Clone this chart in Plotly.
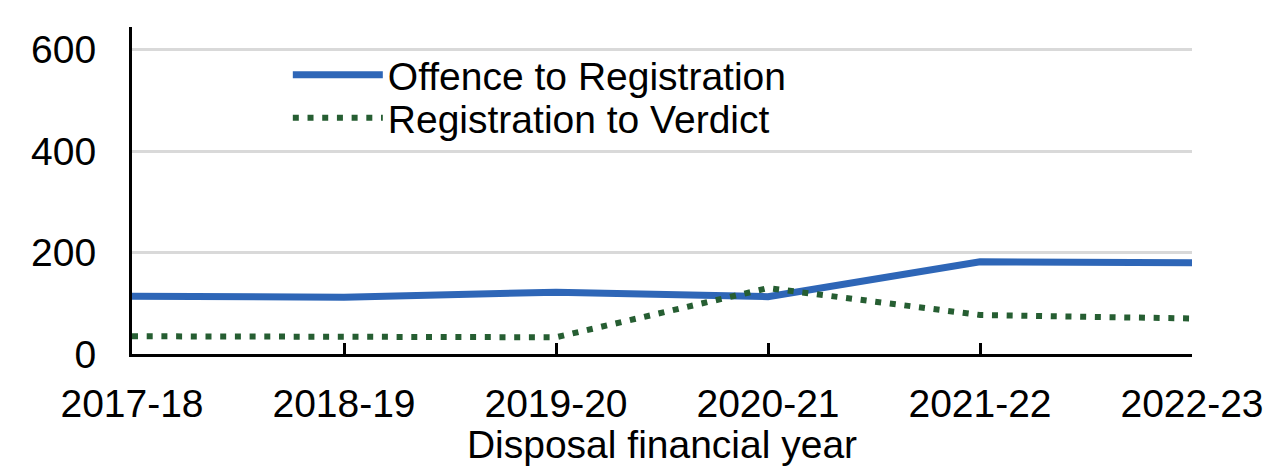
import plotly.graph_objects as go

years = ["2017-18", "2018-19", "2019-20", "2020-21", "2021-22", "2022-23"]
offence_to_registration = [114, 112, 122, 113, 182, 180]
registration_to_verdict = [35, 35, 33, 130, 77, 70]
y_ticks = [0, 200, 400, 600]

FONT = "Liberation Sans, Arial, sans-serif"
FS = 39

# page body has an 8px margin; compensate so plot lands where the reference's does
OFF = 8
W, H = 1274 - OFF, 466 - OFF
L, T, PW, PH = 132 - OFF, 27 - OFF, 1060, 327

fig = go.Figure()
fig.add_trace(go.Scatter(
    x=years, y=offence_to_registration, mode="lines",
    name="Offence to Registration", legend="legend",
    line=dict(color="#2E66B7", width=7),
))
fig.add_trace(go.Scatter(
    x=years, y=registration_to_verdict, mode="lines",
    name="Registration to Verdict", legend="legend2",
    line=dict(color="#265E32", width=6, dash="6px,8.7px"),
))

leg = dict(xanchor="left", yanchor="middle", bgcolor="rgba(0,0,0,0)",
           font=dict(size=FS), itemwidth=90, borderwidth=0)

fig.update_layout(
    width=W, height=H,
    margin=dict(l=L, r=W - L - PW, t=T, b=H - T - PH, autoexpand=False),
    paper_bgcolor="white", plot_bgcolor="white",
    font=dict(family=FONT, size=FS, color="black"),
    showlegend=True,
    legend=dict(x=0.147, y=(354 - 75) / 327, **leg),
    legend2=dict(x=0.147, y=(354 - 118) / 327, **leg),
    xaxis=dict(
        type="category", range=[0, 5], automargin=False,
        showline=True, linecolor="black", linewidth=3,
        ticks="inside", ticklen=11, tickwidth=3, tickcolor="black",
        showgrid=False, zeroline=False,
        tickfont=dict(size=FS), ticklabelstandoff=13,
        title=dict(text="Disposal financial year", font=dict(size=FS), standoff=0),
    ),
    yaxis=dict(
        range=[0, 645], tickvals=y_ticks, ticktext=[str(v) for v in y_ticks],
        automargin=False,
        showline=True, linecolor="black", linewidth=3,
        ticks="", showgrid=True, gridcolor="#D9D9D9", gridwidth=3,
        zeroline=False, tickfont=dict(size=FS),
        ticklabelstandoff=25,
    ),
)

fig.write_html("out.html")
